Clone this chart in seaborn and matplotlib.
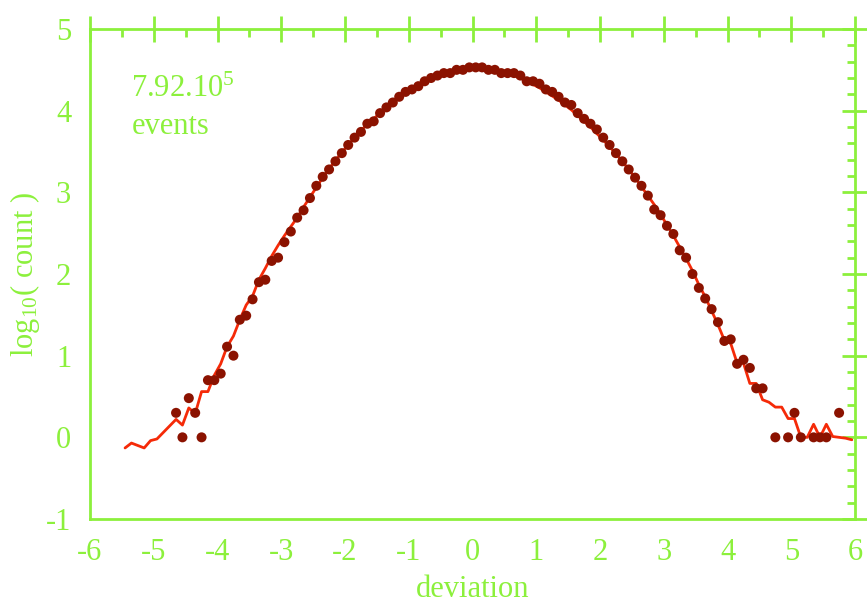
import matplotlib
matplotlib.use('Agg')
import matplotlib.pyplot as plt
from matplotlib.ticker import MultipleLocator
import seaborn as sns

# measured histogram: bin centres (deviation) and log10(count)
dot_x = [-4.65, -4.55, -4.45, -4.35, -4.25, -4.15, -4.05, -3.95, -3.85, -3.75,
         -3.65, -3.55, -3.45, -3.35, -3.25, -3.15, -3.05, -2.95, -2.85, -2.75,
         -2.65, -2.55, -2.45, -2.35, -2.25, -2.15, -2.05, -1.95, -1.85, -1.75,
         -1.65, -1.55, -1.45, -1.35, -1.25, -1.15, -1.05, -0.95, -0.85, -0.75,
         -0.65, -0.55, -0.45, -0.35, -0.25, -0.15, -0.05, 0.05, 0.15, 0.25,
         0.35, 0.45, 0.55, 0.65, 0.75, 0.85, 0.95, 1.05, 1.15, 1.25,
         1.35, 1.45, 1.55, 1.65, 1.75, 1.85, 1.95, 2.05, 2.15, 2.25,
         2.35, 2.45, 2.55, 2.65, 2.75, 2.85, 2.95, 3.05, 3.15, 3.25,
         3.35, 3.45, 3.55, 3.65, 3.75, 3.85, 3.95, 4.05, 4.15, 4.25,
         4.35, 4.45, 4.55, 4.75, 4.95, 5.05, 5.15, 5.35, 5.45, 5.55,
         5.75]
dot_y = [0.30, 0.00, 0.48, 0.30, 0.00, 0.70, 0.70, 0.78, 1.11, 1.00,
         1.44, 1.49, 1.69, 1.90, 1.93, 2.16, 2.20, 2.39, 2.52, 2.69,
         2.78, 2.93, 3.08, 3.19, 3.28, 3.38, 3.48, 3.58, 3.67, 3.74,
         3.84, 3.87, 3.97, 4.04, 4.10, 4.17, 4.23, 4.26, 4.30, 4.36,
         4.40, 4.43, 4.46, 4.46, 4.50, 4.50, 4.53, 4.53, 4.53, 4.50,
         4.50, 4.46, 4.46, 4.46, 4.43, 4.36, 4.36, 4.33, 4.26, 4.23,
         4.17, 4.10, 4.07, 3.97, 3.90, 3.84, 3.77, 3.67, 3.58, 3.48,
         3.38, 3.28, 3.18, 3.08, 2.96, 2.79, 2.72, 2.59, 2.49, 2.29,
         2.20, 2.00, 1.83, 1.70, 1.57, 1.41, 1.18, 1.20, 0.90, 0.95,
         0.85, 0.60, 0.60, 0.00, 0.00, 0.30, 0.00, 0.00, 0.00, 0.00,
         0.30]

# reference curve
line_x = [-5.45, -5.35, -5.25, -5.15, -5.05, -4.95, -4.85, -4.75, -4.65, -4.55,
          -4.45, -4.35, -4.25, -4.15, -4.05, -3.95, -3.85, -3.75, -3.65, -3.55,
          -3.45, -3.35, -3.25, -3.15, -3.05, -2.95, -2.85, -2.75, -2.65, -2.55,
          -2.45, -2.35, -2.25, -2.15, -2.05, -1.95, -1.85, -1.75, -1.65, -1.55,
          -1.45, -1.35, -1.25, -1.15, -1.05, -0.95, -0.85, -0.75, -0.65, -0.55,
          -0.45, -0.35, -0.25, -0.15, -0.05, 0.05, 0.15, 0.25, 0.35, 0.45,
          0.55, 0.65, 0.75, 0.85, 0.95, 1.05, 1.15, 1.25, 1.35, 1.45,
          1.55, 1.65, 1.75, 1.85, 1.95, 2.05, 2.15, 2.25, 2.35, 2.45,
          2.55, 2.65, 2.75, 2.85, 2.95, 3.05, 3.15, 3.25, 3.35, 3.45,
          3.55, 3.65, 3.75, 3.85, 3.95, 4.05, 4.15, 4.25, 4.35, 4.45,
          4.55, 4.65, 4.75, 4.85, 4.95, 5.05, 5.15, 5.25, 5.35, 5.45,
          5.55, 5.65, 5.75, 5.85, 5.95]
line_y = [-0.13, -0.07, -0.10, -0.13, -0.04, -0.02, 0.06, 0.14, 0.22, 0.15,
          0.36, 0.29, 0.56, 0.56, 0.76, 0.90, 1.11, 1.24, 1.44, 1.62,
          1.73, 1.93, 2.07, 2.22, 2.35, 2.47, 2.58, 2.69, 2.82, 2.94,
          3.06, 3.18, 3.29, 3.39, 3.49, 3.58, 3.67, 3.76, 3.83, 3.90,
          3.97, 4.04, 4.10, 4.16, 4.22, 4.27, 4.31, 4.36, 4.39, 4.43,
          4.45, 4.47, 4.49, 4.50, 4.51, 4.51, 4.51, 4.50, 4.49, 4.47,
          4.45, 4.43, 4.40, 4.36, 4.32, 4.28, 4.23, 4.18, 4.13, 4.07,
          4.01, 3.94, 3.87, 3.80, 3.72, 3.64, 3.56, 3.47, 3.38, 3.28,
          3.18, 3.07, 2.96, 2.85, 2.73, 2.60, 2.47, 2.33, 2.19, 2.04,
          1.87, 1.72, 1.55, 1.38, 1.19, 1.15, 0.91, 0.91, 0.66, 0.66,
          0.46, 0.43, 0.37, 0.37, 0.23, 0.23, 0.00, 0.00, 0.16, 0.00,
          0.16, 0.01, 0.00, -0.01, -0.03]

green = '#8cf03c'

sns.set_style('white')
plt.rcParams['font.family'] = ['Liberation Serif', 'DejaVu Serif']
plt.rcParams['mathtext.fontset'] = 'custom'
plt.rcParams['mathtext.rm'] = 'Liberation Serif'
plt.rcParams['mathtext.it'] = 'Liberation Serif:italic'
plt.rcParams['axes.unicode_minus'] = False

fig = plt.figure(figsize=(8.67, 6.03), dpi=100)
ax = fig.add_axes([0.1038, 0.1393, 0.8824, 0.8126])

sns.lineplot(x=line_x, y=line_y, color='#f52a08', lw=2, ax=ax, sort=False, zorder=2)
sns.scatterplot(x=dot_x, y=dot_y, color='#8b1200', s=52, edgecolor='none', ax=ax, zorder=3)

ax.set_xlim(-6, 6)
ax.set_ylim(-1, 5)
ax.set_xticks(range(-6, 7))
ax.set_yticks(range(-1, 6))
ax.xaxis.set_minor_locator(MultipleLocator(0.5))
ax.yaxis.set_minor_locator(MultipleLocator(0.2))

ax.tick_params(which='major', direction='inout', length=19, width=2, color=green,
               labelcolor=green, labelsize=22, top=True, right=True, pad=4)
ax.tick_params(which='minor', direction='in', length=5.5, width=2, color=green,
               top=True, right=True)
for s in ax.spines.values():
    s.set_color(green)
    s.set_linewidth(2)

ax.set_xlabel('deviation', color=green, fontsize=22, labelpad=6)
ax.set_ylabel(r'log$_{10}$( count )', color=green, fontsize=22, labelpad=3)

ax.text(-5.35, 4.17, r'7.92.10$^5$', color=green, fontsize=22)
ax.text(-5.35, 3.72, 'events', color=green, fontsize=22)

fig.savefig('out.png', dpi=100)
